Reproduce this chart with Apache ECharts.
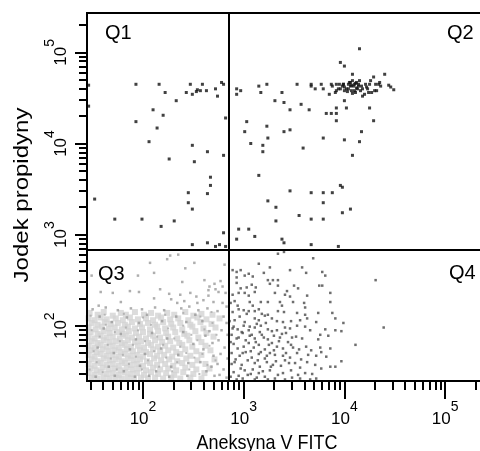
<!DOCTYPE html>
<html><head><meta charset="utf-8">
<script src="https://cdn.jsdelivr.net/npm/echarts@6/dist/echarts.min.js"></script>
<style>html,body{margin:0;padding:0;background:#fff}#c{width:480px;height:451px}</style>
</head><body><div id="c"></div>
<script>
// ---- texts ----
const xTitle = 'Aneksyna V FITC';
const yTitle = 'Jodek propidyny';
const quadrantNames = ['Q1', 'Q2', 'Q3', 'Q4'];
// ---- axes (values are log10 of fluorescence intensity) ----
const decadeExponents = [2, 3, 4, 5];
const minorTickValues = [30, 40, 50, 60, 70, 80, 90, 200, 300, 400, 500, 600, 700, 800, 900,
  2000, 3000, 4000, 5000, 6000, 7000, 8000, 9000, 20000, 30000, 40000, 50000, 60000, 70000, 80000, 90000, 200000];
const xRangeLog = [1.444, 5.416];
const yRangeLog = [1.393, 5.4325];
const gateXLog = 2.854;
const gateYLog = 2.831;
// ---- events: [log10 Annexin V FITC, log10 PI] ----
const q1Log = [[1.46,4.64],[1.46,4.41],[1.93,4.65],[2.16,4.65],[2.22,4.56],[2.43,4.56],[2.47,4.65],[2.49,4.54],[2.53,4.57],[2.54,4.59],[2.57,4.58],[2.59,4.65],[2.63,4.58],[2.72,4.60],[2.74,4.52],[2.78,4.67],[2.80,4.65],[2.33,4.47],[2.10,4.37],[2.20,4.31],[1.93,4.24],[2.14,4.17],[2.82,4.28],[2.06,4.02],[2.49,3.98],[2.64,3.91],[2.80,3.87],[2.26,3.83],[2.51,3.80],[2.67,3.63],[2.67,3.54],[2.64,3.45],[2.45,3.46],[2.45,3.35],[2.49,3.28],[1.52,3.39],[1.72,3.17],[1.99,3.17],[2.31,3.15],[2.18,3.09],[2.80,3.02],[2.49,2.89],[2.64,2.91],[2.72,2.87],[2.76,2.89],[2.82,2.87]];
const q2Log = [[2.93,4.60],[2.93,4.54],[2.97,4.58],[3.15,4.63],[3.17,4.56],[3.23,4.65],[3.38,4.56],[3.53,4.65],[3.67,4.65],[3.67,4.63],[3.71,4.60],[3.77,4.65],[3.79,4.60],[3.85,4.54],[3.87,4.65],[3.88,4.63],[3.91,4.56],[3.92,4.58],[3.92,4.65],[3.94,4.60],[3.95,4.65],[3.96,4.89],[4.00,4.85],[3.98,4.63],[3.99,4.65],[4.00,4.58],[4.02,4.60],[4.04,4.65],[4.05,4.67],[4.06,4.63],[4.07,4.58],[4.08,4.69],[4.08,4.76],[4.09,4.63],[4.10,4.65],[4.11,4.56],[4.12,4.67],[4.13,4.60],[4.14,4.65],[4.15,4.69],[4.16,4.58],[4.17,4.63],[4.18,4.52],[4.20,4.54],[4.21,4.65],[4.23,4.60],[4.24,4.56],[4.25,4.65],[4.26,4.69],[4.27,4.56],[4.29,4.73],[4.30,4.58],[4.31,4.65],[4.32,4.58],[4.34,4.65],[4.35,4.67],[4.36,4.63],[4.40,4.76],[4.15,5.04],[4.49,4.59],[4.46,4.62],[4.44,4.64],
[4.00,4.62],[4.04,4.60],[4.07,4.64],[4.10,4.58],[4.12,4.61],[4.03,4.57],[4.08,4.55],[3.96,4.60],[4.14,4.63],[4.18,4.60],[4.22,4.62],[4.06,4.67],[3.99,4.65],[4.11,4.66],
[3.31,4.47],[3.40,4.45],[3.57,4.43],[3.46,4.37],[3.65,4.37],[3.82,4.33],[3.87,4.33],[3.92,4.33],[3.92,4.39],[3.92,4.25],[4.02,4.39],[4.00,4.47],[4.25,4.39],[4.29,4.25],[3.03,4.24],[3.01,4.13],[3.23,4.19],[3.24,4.06],[3.40,4.13],[3.46,4.15],[3.79,4.06],[4.00,4.04],[4.17,4.13],[4.15,4.02],[3.07,4.00],[3.19,3.98],[3.19,3.91],[3.59,3.95],[4.08,3.87],[3.15,3.65],[3.46,3.48],[3.67,3.46],[3.79,3.46],[3.88,3.46],[3.96,3.54],[3.98,3.52],[3.79,3.35],[3.24,3.37],[3.32,3.30],[3.55,3.21],[3.67,3.17],[3.79,3.17],[3.98,3.24],[4.06,3.28],[3.32,3.15],[2.95,3.06],[3.05,3.06],[3.11,2.98],[2.93,2.95],[3.38,2.95],[3.40,2.91],[3.67,2.89],[3.94,2.87]];
const q3SparseLog = [[2.27,2.77],[2.35,2.78],[2.24,2.73],[2.07,2.69],[2.51,2.69],[2.81,2.67],[2.42,2.63],[2.11,2.58],[1.95,2.55],[1.49,2.55],[2.39,2.48],[2.61,2.50],[2.77,2.49],[2.71,2.46],[2.66,2.43],[2.79,2.43],[1.58,2.37],[1.70,2.36],[1.87,2.38],[1.96,2.37],[2.17,2.40],[2.26,2.35],[2.37,2.34],[2.47,2.36],[2.53,2.32],[2.65,2.33],[2.75,2.37],[2.82,2.36],[1.56,2.22],[1.78,2.26],[2.11,2.30],[2.28,2.29],[2.34,2.25],[2.41,2.27],[2.54,2.25],[2.60,2.28],[2.70,2.26],[2.79,2.25],[2.83,2.21],[2.65,2.39],[2.72,2.40],
[1.50,2.18],[1.63,2.20],[1.75,2.17],[1.88,2.19],[1.99,2.18],[2.12,2.20],[2.21,2.17],[2.38,2.19],[2.46,2.21],[2.55,2.17],[2.64,2.19],[2.74,2.16],[2.80,2.10],[2.83,2.03],[2.78,1.95],[2.84,1.90],[2.75,1.84],[2.81,1.76],[2.77,1.69],[2.84,1.64],[2.74,1.58],[2.80,1.52],[2.76,1.46],[2.83,1.43],[2.66,1.94],[2.69,1.81],[2.70,1.67],[2.68,1.55],[2.71,1.45],[2.59,2.05],[2.62,1.89],[2.60,1.74],[2.57,1.60],[2.63,1.50],[1.57,2.10],[1.69,2.04],[1.84,2.09],[1.96,2.03],[2.04,2.12],[2.19,2.05],[2.33,2.10],[2.43,2.04],[2.52,2.12],[1.61,1.97],[1.78,1.91],[1.93,1.85],[2.09,1.92],[2.24,1.86],[2.40,1.93],[2.50,1.80],[1.55,1.76],[1.71,1.70],[1.87,1.74],[2.02,1.69],[2.18,1.75],[2.35,1.68],[2.45,1.59],[1.66,1.55],[1.81,1.50],[1.97,1.56],[2.13,1.50],[2.28,1.55],[2.44,1.45],[1.53,1.44],[1.72,1.45],[1.92,1.44],[2.06,1.45],[2.26,1.44]];
const q3SpeckleLog = [[1.49,1.95],[1.51,1.72],[1.54,1.60],[1.57,1.88],[1.60,1.49],[1.63,2.01],[1.65,1.79],[1.68,1.64],[1.72,1.93],[1.74,1.52],[1.77,1.83],[1.80,1.68],[1.83,1.98],[1.86,1.58],[1.90,1.79],[1.93,1.66],[1.95,1.95],[1.99,1.52],[2.02,1.83],[2.05,1.62],[2.08,2.01],[2.11,1.72],[2.14,1.88],[2.16,1.55],[2.20,1.79],[2.23,1.65],[2.25,1.97],[2.29,1.50],[2.31,1.86],[2.34,1.60],[2.37,1.77],[2.40,2.00],[2.43,1.70],[2.46,1.52],[2.48,1.90],[2.51,1.65],[2.54,1.84],[2.56,1.47],[2.59,1.69],[2.61,1.96],[2.64,1.57],[2.66,1.78],[2.69,2.03],[2.72,1.62],[2.73,1.90],[1.47,1.52],[1.48,2.11],[1.62,2.12],[1.81,2.13],[2.00,2.09],[2.22,2.12],[2.40,2.14],[2.57,2.10],[2.68,2.15]];
const q3CoreLog = [
[1.47,2.14],[1.55,2.12],[1.61,2.15],[1.70,2.11],[1.78,2.14],[1.83,2.12],[1.92,2.15],[2.01,2.12],[2.08,2.14],[2.15,2.11],[2.24,2.14],[2.31,2.12],[2.42,2.15],[2.50,2.11],[2.58,2.13],[2.69,2.12],
[1.46,2.08],[1.52,2.06],[1.58,2.09],[1.64,2.07],[1.73,2.08],[1.80,2.06],[1.87,2.09],[1.95,2.07],[2.03,2.08],[2.10,2.06],[2.18,2.09],[2.27,2.07],[2.35,2.08],[2.45,2.06],[2.54,2.09],[2.63,2.07],[2.76,2.08],
[1.49,2.03],[1.55,2.01],[1.62,2.04],[1.68,2.02],[1.75,2.03],[1.82,2.01],[1.89,2.04],[1.97,2.02],[2.05,2.03],[2.12,2.01],[2.20,2.04],[2.28,2.02],[2.37,2.03],[2.47,2.01],[2.57,2.04],[2.68,2.02],
[1.46,1.98],[1.53,1.96],[1.59,1.99],[1.66,1.97],[1.72,1.98],[1.79,1.96],[1.85,1.99],[1.92,1.97],[1.99,1.98],[2.07,1.96],[2.14,1.99],[2.22,1.97],[2.30,1.98],[2.39,1.96],[2.49,1.99],[2.60,1.97],[2.72,1.98],
[1.48,1.93],[1.55,1.91],[1.61,1.94],[1.67,1.92],[1.74,1.93],[1.80,1.91],[1.86,1.94],[1.93,1.92],[2.00,1.93],[2.07,1.91],[2.15,1.94],[2.23,1.92],[2.32,1.93],[2.41,1.91],[2.52,1.94],[2.63,1.92],
[1.46,1.88],[1.52,1.86],[1.58,1.89],[1.64,1.87],[1.70,1.88],[1.77,1.86],[1.83,1.89],[1.89,1.87],[1.96,1.88],[2.03,1.86],[2.10,1.89],[2.17,1.87],[2.25,1.88],[2.34,1.86],[2.44,1.89],[2.55,1.87],[2.70,1.88],
[1.49,1.83],[1.55,1.81],[1.61,1.84],[1.67,1.82],[1.73,1.83],[1.79,1.81],[1.85,1.84],[1.92,1.82],[1.98,1.83],[2.05,1.81],[2.12,1.84],[2.19,1.82],[2.27,1.83],[2.36,1.81],[2.46,1.84],[2.58,1.82],
[1.46,1.78],[1.52,1.76],[1.58,1.79],[1.64,1.77],[1.70,1.78],[1.76,1.76],[1.82,1.79],[1.88,1.77],[1.95,1.78],[2.01,1.76],[2.08,1.79],[2.15,1.77],[2.22,1.78],[2.30,1.76],[2.39,1.79],[2.49,1.77],[2.62,1.78],
[1.48,1.73],[1.54,1.71],[1.60,1.74],[1.66,1.72],[1.72,1.73],[1.78,1.71],[1.84,1.74],[1.90,1.72],[1.97,1.73],[2.03,1.71],[2.10,1.74],[2.17,1.72],[2.25,1.73],[2.33,1.71],[2.42,1.74],[2.53,1.72],[2.67,1.73],
[1.46,1.68],[1.52,1.66],[1.58,1.69],[1.64,1.67],[1.70,1.68],[1.76,1.66],[1.82,1.69],[1.88,1.67],[1.94,1.68],[2.00,1.66],[2.07,1.69],[2.14,1.67],[2.21,1.68],[2.29,1.66],[2.37,1.69],[2.47,1.67],[2.58,1.68],
[1.49,1.63],[1.55,1.61],[1.61,1.64],[1.67,1.62],[1.73,1.63],[1.79,1.61],[1.85,1.64],[1.91,1.62],[1.97,1.63],[2.04,1.61],[2.11,1.64],[2.18,1.62],[2.26,1.63],[2.34,1.61],[2.43,1.64],[2.54,1.62],[2.71,1.63],
[1.46,1.58],[1.52,1.56],[1.58,1.59],[1.64,1.57],[1.70,1.58],[1.76,1.56],[1.82,1.59],[1.88,1.57],[1.94,1.58],[2.00,1.56],[2.07,1.59],[2.14,1.57],[2.22,1.58],[2.30,1.56],[2.39,1.59],[2.49,1.57],[2.62,1.58],
[1.48,1.53],[1.54,1.51],[1.60,1.54],[1.66,1.52],[1.72,1.53],[1.78,1.51],[1.84,1.54],[1.90,1.52],[1.96,1.53],[2.03,1.51],[2.10,1.54],[2.17,1.52],[2.25,1.53],[2.33,1.51],[2.42,1.54],[2.53,1.52],[2.66,1.53],
[1.46,1.48],[1.52,1.46],[1.58,1.49],[1.64,1.47],[1.70,1.48],[1.76,1.46],[1.82,1.49],[1.88,1.47],[1.94,1.48],[2.01,1.46],[2.08,1.49],[2.15,1.47],[2.23,1.48],[2.31,1.46],[2.40,1.49],[2.50,1.47],[2.61,1.48],
[1.49,1.43],[1.55,1.42],[1.61,1.43],[1.67,1.42],[1.73,1.43],[1.79,1.42],[1.85,1.43],[1.91,1.42],[1.98,1.43],[2.05,1.42],[2.12,1.43],[2.20,1.42],[2.28,1.43],[2.37,1.42],[2.47,1.43],[2.58,1.42]];
const q4Log = [[3.15,2.68],[3.26,2.64],[3.34,2.79],[3.40,2.81],[3.58,2.64],[3.69,2.74],[3.46,2.61],[3.62,2.58],[3.78,2.59],[3.81,2.55],[4.31,2.50],[4.39,1.98],
[2.89,2.61],[2.93,2.59],[2.97,2.61],[3.01,2.55],[3.05,2.57],[3.09,2.54],[3.20,2.58],[3.24,2.50],[3.29,2.50],[3.34,2.50],[2.93,2.53],
[2.93,2.47],[2.97,2.41],[3.03,2.42],[3.08,2.45],[3.12,2.42],[3.26,2.46],[3.34,2.44],[3.43,2.38],[3.50,2.44],[3.54,2.41],[3.75,2.44],[3.78,2.44],
[2.89,2.34],[2.95,2.36],[3.01,2.36],[3.05,2.33],[3.11,2.37],[3.31,2.36],[3.41,2.34],[3.46,2.32],[3.63,2.33],[3.86,2.36],
[2.87,2.25],[2.91,2.27],[3.06,2.26],[3.17,2.26],[3.24,2.26],[3.36,2.26],[3.49,2.26],[3.60,2.25],[3.86,2.26],[3.38,2.22],[3.61,2.20],[3.09,2.22],
[2.89,2.15],[2.95,2.18],[3.00,2.17],[3.05,2.16],[3.11,2.16],[3.18,2.13],[3.24,2.12],[3.34,2.16],[3.40,2.15],[3.53,2.14],[3.61,2.12],[3.74,2.14],[3.88,2.14],[3.15,2.18],
[2.91,2.06],[2.96,2.10],[3.01,2.04],[3.11,2.08],[3.15,2.06],[3.21,2.11],[3.28,2.08],[3.33,2.05],[3.39,2.04],[3.47,2.05],[3.56,2.06],[3.63,2.08],[3.72,2.04],[3.91,2.08],[3.99,2.03],
[2.90,1.99],[2.94,1.96],[3.00,2.00],[3.05,1.95],[3.11,1.98],[3.17,2.00],[3.24,1.96],[3.33,1.95],[3.41,1.98],[3.46,1.97],[3.53,2.00],[3.61,1.99],[3.66,1.95],[3.81,1.96],[3.91,1.95],[3.97,1.94],
[2.88,1.90],[2.95,1.87],[2.99,1.92],[3.06,1.89],[3.11,1.86],[3.18,1.90],[3.24,1.85],[3.30,1.89],[3.36,1.87],[3.42,1.92],[3.48,1.87],[3.58,1.86],[3.76,1.90],[3.84,1.89],[3.74,1.85],
[2.90,1.80],[2.94,1.75],[3.00,1.77],[3.05,1.81],[3.10,1.76],[3.15,1.79],[3.21,1.74],[3.28,1.81],[3.33,1.77],[3.39,1.75],[3.47,1.79],[3.55,1.74],[3.62,1.77],[3.67,1.73],[3.76,1.76],[3.86,1.75],[4.11,1.79],
[2.88,1.70],[2.96,1.67],[3.02,1.71],[3.08,1.65],[3.15,1.69],[3.21,1.64],[3.26,1.70],[3.31,1.68],[3.39,1.67],[3.46,1.65],[3.53,1.70],[3.64,1.68],[3.72,1.67],[3.77,1.71],[3.82,1.66],
[2.91,1.60],[2.98,1.57],[3.04,1.62],[3.11,1.59],[3.16,1.55],[3.23,1.60],[3.29,1.57],[3.41,1.62],[3.51,1.59],[3.56,1.54],[3.63,1.60],[3.71,1.57],[3.77,1.53],[3.86,1.55],[3.91,1.55],[3.97,1.61],
[2.90,1.49],[2.95,1.45],[3.01,1.51],[3.07,1.47],[3.15,1.48],[3.21,1.44],[3.26,1.51],[3.34,1.46],[3.39,1.48],[3.47,1.51],[3.54,1.46],[3.61,1.48],[3.68,1.47],[3.72,1.42],[2.93,1.41],[3.11,1.41],[3.24,1.41],[3.41,1.41],[3.56,1.42],[3.66,1.41],
[2.86,2.05],[2.87,1.82],[2.88,1.58],[2.89,1.97],[2.92,1.63],[2.93,1.86],[2.94,2.22],[2.97,1.53],[2.98,1.93],[2.99,1.70],[3.02,1.84],[3.03,2.13],[3.04,1.46],[3.06,1.99],[3.07,1.72],[3.08,1.90],[3.09,1.52],[3.12,1.82],[3.13,2.02],[3.14,1.62],[3.16,1.93],[3.17,1.71],[3.19,1.50],[3.20,1.87],[3.22,2.03],[3.23,1.67],[3.25,1.79],[3.27,1.55],[3.28,1.94],[3.30,1.73],[3.32,1.61],[3.35,1.83],[3.37,1.56],[3.38,1.91],[3.42,1.70],[3.44,1.82],[3.45,1.59],[3.49,1.76],[3.52,1.88],[3.57,1.63],[2.87,1.44],[2.99,1.42],[3.13,1.43],[3.31,1.42],[3.48,1.43]];

const FONT = '"Liberation Sans", Arial, sans-serif';
const minorLog = minorTickValues.map(v => Math.log10(v));
const X0 = 87, Y0 = 13, W = 400, H = 368;

function decadeLabel(showBase, showExp, size, expSize) {
  return {
    customValues: decadeExponents,
    formatter: v => '{b|10}{e|' + Math.round(v) + '}',
    rich: {
      b: { fontSize: size, fontFamily: FONT, color: showBase ? '#000' : 'rgba(0,0,0,0)', verticalAlign: 'bottom' },
      e: { fontSize: expSize, fontFamily: FONT, color: showExp ? '#000' : 'rgba(0,0,0,0)', verticalAlign: 'bottom' }
    }
  };
}
const axisCommon = (range) => ({ type: 'value', min: range[0], max: range[1], splitLine: { show: false }, z: 5 });

const xAxes = [
  Object.assign(axisCommon(xRangeLog), {
    position: 'bottom',
    axisLine: { show: true, onZero: false, lineStyle: { color: '#000', width: 2 } },
    axisTick: { show: true, customValues: decadeExponents, length: 18, lineStyle: { color: '#000', width: 2 } },
    axisLabel: Object.assign(decadeLabel(true, false, 17, 14), { margin: 30 })
  }),
  Object.assign(axisCommon(xRangeLog), {
    position: 'bottom', offset: 0,
    axisLine: { show: false },
    axisTick: { show: true, customValues: minorLog, length: 9, lineStyle: { color: '#000', width: 2 } },
    axisLabel: Object.assign(decadeLabel(false, true, 17, 14), { margin: 16 })
  })
];
const yAxes = [
  Object.assign(axisCommon(yRangeLog), {
    position: 'left',
    axisLine: { show: true, onZero: false, lineStyle: { color: '#000', width: 2 } },
    axisTick: { show: true, customValues: decadeExponents, length: 12, lineStyle: { color: '#000', width: 2 } },
    axisLabel: Object.assign(decadeLabel(true, false, 17, 14), { margin: 17, rotate: 90 })
  }),
  Object.assign(axisCommon(yRangeLog), {
    position: 'left', offset: 0,
    axisLine: { show: false },
    axisTick: { show: true, customValues: minorLog, length: 8, lineStyle: { color: '#000', width: 2 } },
    axisLabel: Object.assign(decadeLabel(false, true, 17, 14), { margin: 30, rotate: 90 })
  })
];

function scatter(name, data, size, color, z) {
  return { name, type: 'scatter', xAxisIndex: 0, yAxisIndex: 0, data, symbol: 'rect', symbolSize: size,
    itemStyle: { color }, silent: true, z, large: false };
}
function qText(i, x, y) {
  return { type: 'text', x, y, style: { text: quadrantNames[i], font: '20px ' + FONT, fill: '#000', textAlign: 'left', textVerticalAlign: 'middle', verticalAlign: 'middle' } };
}

const chart = echarts.init(document.getElementById('c'), null, { renderer: 'canvas' });
chart.setOption({
  animation: false,
  backgroundColor: '#fff',
  grid: { left: X0, top: Y0, width: W, height: H, outerBoundsMode: 'none', containLabel: false, show: true, borderColor: '#000', borderWidth: 2, backgroundColor: 'transparent' },
  xAxis: xAxes,
  yAxis: yAxes,
  series: [
    scatter('Q3 core', q3CoreLog, 6, '#d3d3d3', 1),
    scatter('Q3 speckle', q3SpeckleLog, 2, '#ababab', 2),
    scatter('Q3', q3SparseLog, 2.5, '#9a9a9a', 2),
    scatter('Q4', q4Log, 2.5, '#4a4a4a', 3),
    scatter('Q2', q2Log, 3, '#111', 3),
    Object.assign(scatter('Q1', q1Log, 3, '#111', 3), {
      markLine: {
        silent: true, symbol: ['none', 'none'], label: { show: false }, animation: false,
        lineStyle: { color: '#000', width: 2, type: 'solid' },
        data: [{ xAxis: gateXLog }, { yAxis: gateYLog }]
      }
    })
  ],
  graphic: [
    qText(0, 105, 33), qText(1, 447, 33), qText(2, 98, 274), qText(3, 449, 273),
    { type: 'text', x: 267, y: 443, scaleY: 1.12, style: { text: xTitle, font: '18px ' + FONT, fill: '#000', textAlign: 'center', textVerticalAlign: 'middle', verticalAlign: 'middle' } },
    { type: 'text', x: 22, y: 195, rotation: Math.PI / 2, scaleX: 1.2, style: { text: yTitle, font: '20px ' + FONT, fill: '#000', textAlign: 'center', textVerticalAlign: 'middle', verticalAlign: 'middle' } }
  ]
});
</script></body></html>
